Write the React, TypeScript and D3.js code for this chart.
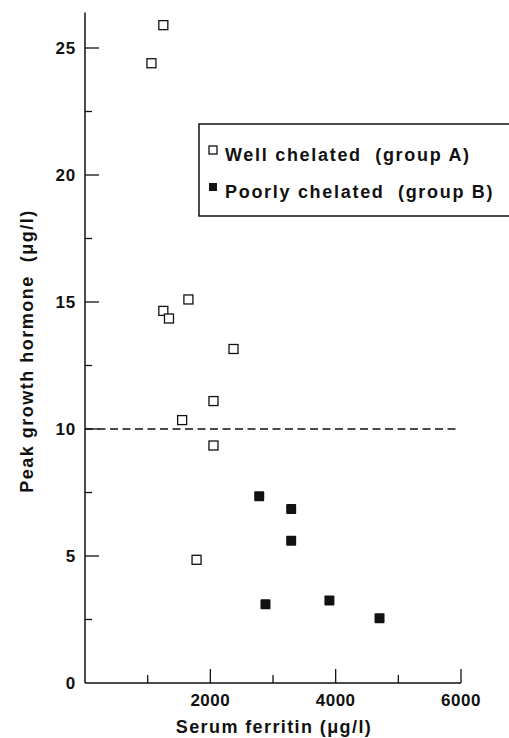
import React, { useEffect, useRef } from 'react';
import * as d3 from 'd3';

// well chelated (group A) - open squares
const wellFerritin = [1250, 1060, 1250, 1340, 1650, 2370, 1550, 2050, 2050, 1780];
const wellGH = [25.9, 24.4, 14.65, 14.35, 15.1, 13.15, 10.35, 11.1, 9.35, 4.85];

// poorly chelated (group B) - filled squares
const poorFerritin = [2780, 3290, 3290, 2880, 3900, 4700];
const poorGH = [7.35, 6.85, 5.6, 3.1, 3.25, 2.55];

const xTicks = [2000, 4000, 6000];
const xMinor = [1000, 3000, 5000];
const yTicks = [0, 5, 10, 15, 20, 25];
const yMinor = [2.5, 7.5, 12.5, 17.5, 22.5];
const cutoff = 10;

const legendLabels = ['Well chelated  (group A)', 'Poorly chelated  (group B)'];

const App = () => {
  const ref = useRef<SVGGElement>(null);
  const width = 509;
  const height = 738;

  useEffect(() => {
    const g = d3.select(ref.current);
    g.selectAll('*').remove();

    const x = d3.scaleLinear().domain([0, 6000]).range([85, 461]);
    const y = d3.scaleLinear().domain([0, 25]).range([683, 48]);
    const font = 'Liberation Sans, Arial, sans-serif';
    const ink = '#111';

    // axes lines
    g.append('line')
      .attr('x1', x(0)).attr('x2', x(0))
      .attr('y1', y(0)).attr('y2', y(26.4))
      .attr('stroke', ink).attr('stroke-width', 1.5);
    g.append('line')
      .attr('x1', x(0)).attr('x2', x(6000))
      .attr('y1', y(0)).attr('y2', y(0))
      .attr('stroke', ink).attr('stroke-width', 1.5);

    // y ticks
    g.selectAll('.ytick')
      .data(yTicks.filter(d => d > 0))
      .enter().append('line')
      .attr('x1', x(0)).attr('x2', x(0) + 14)
      .attr('y1', d => y(d)).attr('y2', d => y(d))
      .attr('stroke', ink).attr('stroke-width', 1.3);
    g.selectAll('.yminor')
      .data(yMinor)
      .enter().append('line')
      .attr('x1', x(0)).attr('x2', x(0) + 7)
      .attr('y1', d => y(d)).attr('y2', d => y(d))
      .attr('stroke', ink).attr('stroke-width', 1.3);
    g.selectAll('.ylab')
      .data(yTicks)
      .enter().append('text')
      .attr('x', x(0) - 9)
      .attr('y', d => y(d))
      .attr('dy', '0.36em')
      .attr('text-anchor', 'end')
      .style('font-family', font).style('font-size', '17px').style('font-weight', 'bold')
      .style('letter-spacing', '0.8px')
      .attr('fill', ink)
      .text(d => d);

    // x ticks
    g.selectAll('.xtick')
      .data(xTicks)
      .enter().append('line')
      .attr('x1', d => x(d)).attr('x2', d => x(d))
      .attr('y1', y(0)).attr('y2', y(0) - 14)
      .attr('stroke', ink).attr('stroke-width', 1.3);
    g.selectAll('.xminor')
      .data(xMinor)
      .enter().append('line')
      .attr('x1', d => x(d)).attr('x2', d => x(d))
      .attr('y1', y(0)).attr('y2', y(0) - 8)
      .attr('stroke', ink).attr('stroke-width', 1.3);
    g.selectAll('.xlab')
      .data(xTicks)
      .enter().append('text')
      .attr('x', d => x(d))
      .attr('y', 706)
      .attr('text-anchor', 'middle')
      .style('font-family', font).style('font-size', '17px').style('font-weight', 'bold')
      .style('letter-spacing', '0.5px')
      .attr('fill', ink)
      .text(d => d);

    // axis titles
    g.append('text')
      .attr('x', 274).attr('y', 733)
      .attr('text-anchor', 'middle')
      .style('font-family', font).style('font-size', '18px').style('font-weight', 'bold')
      .style('letter-spacing', '1.4px')
      .attr('fill', ink)
      .text('Serum ferritin (μg/l)');
    g.append('text')
      .attr('transform', 'translate(33,' + 351 + ') rotate(-90)')
      .attr('text-anchor', 'middle')
      .style('font-family', font).style('font-size', '18px').style('font-weight', 'bold')
      .style('letter-spacing', '1.5px')
      .style('white-space', 'pre')
      .attr('fill', ink)
      .text('Peak growth hormone  (μg/l)');

    // cutoff dashed line
    g.append('line')
      .attr('x1', x(0)).attr('x2', x(5950))
      .attr('y1', y(cutoff)).attr('y2', y(cutoff))
      .attr('stroke', ink).attr('stroke-width', 1.3)
      .attr('stroke-dasharray', '8,4.5');

    const s = 9;
    // open squares
    g.selectAll('.well')
      .data(d3.range(wellFerritin.length))
      .enter().append('rect')
      .attr('x', i => x(wellFerritin[i]) - s / 2)
      .attr('y', i => y(wellGH[i]) - s / 2)
      .attr('width', s).attr('height', s)
      .attr('fill', '#fff').attr('stroke', ink).attr('stroke-width', 1.3);
    // filled squares
    g.selectAll('.poor')
      .data(d3.range(poorFerritin.length))
      .enter().append('rect')
      .attr('x', i => x(poorFerritin[i]) - (s + 1) / 2)
      .attr('y', i => y(poorGH[i]) - (s + 1) / 2)
      .attr('width', s + 1).attr('height', s + 1)
      .attr('rx', 1)
      .attr('fill', ink);

    // legend
    const lg = g.append('g');
    lg.append('rect')
      .attr('x', 199).attr('y', 124)
      .attr('width', 330).attr('height', 92)
      .attr('fill', '#fff').attr('stroke', ink).attr('stroke-width', 1.5);
    lg.append('rect')
      .attr('x', 209).attr('y', 146).attr('width', 8).attr('height', 8)
      .attr('fill', '#fff').attr('stroke', ink).attr('stroke-width', 1.3);
    lg.append('rect')
      .attr('x', 209).attr('y', 183).attr('width', 8).attr('height', 8)
      .attr('fill', ink);
    lg.selectAll('.ltext')
      .data(legendLabels)
      .enter().append('text')
      .attr('x', 225)
      .attr('y', (d, i) => 161 + i * 37)
      .style('font-family', font).style('font-size', '18px').style('font-weight', 'bold')
      .style('letter-spacing', '1.7px')
      .style('white-space', 'pre')
      .attr('fill', ink)
      .text(d => d);
  });

  return (
    <svg width={width} height={height} style={{ position: 'absolute', left: 0, top: 0, background: '#fff' }}>
      <g ref={ref} />
    </svg>
  );
};

export default App;
